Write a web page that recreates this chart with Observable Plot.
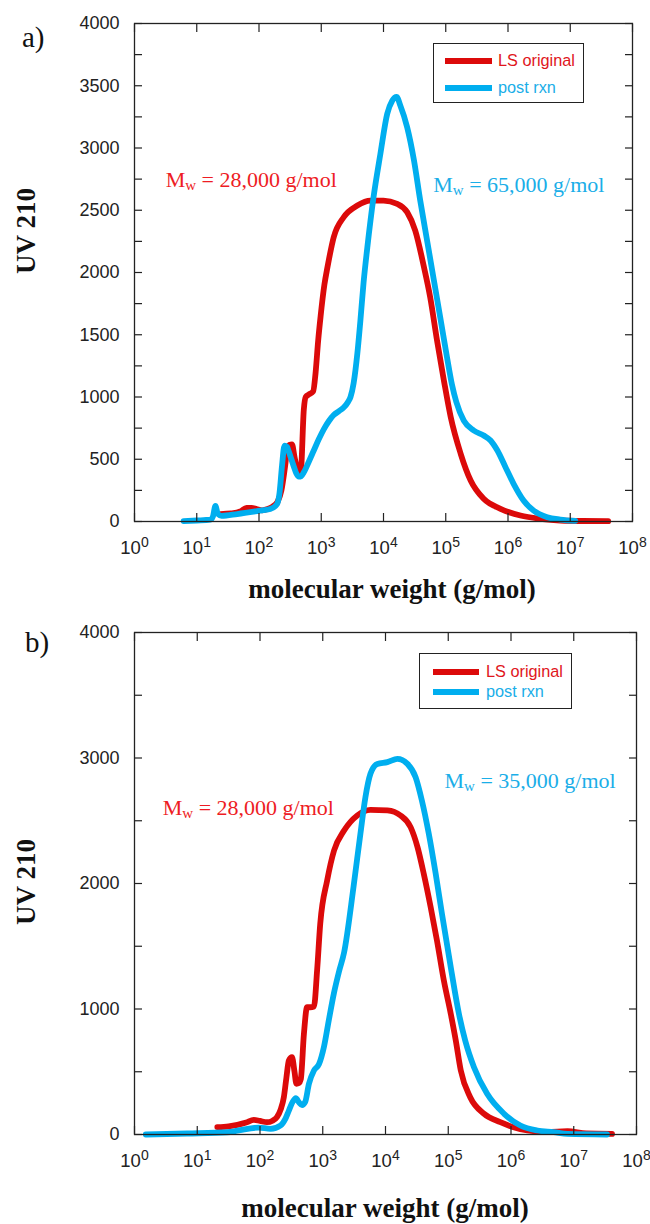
<!DOCTYPE html>
<html><head><meta charset="utf-8">
<script src="https://cdn.jsdelivr.net/npm/d3@7"></script>
<script src="https://cdn.jsdelivr.net/npm/@observablehq/plot@0.6"></script>
<style>
html,body{margin:0;padding:0;background:#fff}
body{width:650px;height:1224px;position:relative;overflow:hidden;font-family:"Liberation Sans",Arial,sans-serif}
.panel{position:absolute;left:0;width:650px;height:612px}
.legend{position:absolute;border:1.3px solid #222;background:#fff;box-sizing:border-box}
.legend .sw{position:absolute;height:6px}
.legend .lb{position:absolute;font-size:16.3px;line-height:16px;white-space:nowrap}
#overlay{position:absolute;left:0;top:0;pointer-events:none}
</style></head><body>
<div id="pa" class="panel" style="top:0"></div>
<div id="pb" class="panel" style="top:612px"></div>
<svg id="overlay" width="650" height="1224"></svg>
<script>
// ---------- data ----------
const series = ["LS original", "post rxn"];
const lineColors = ["#dc0a0a", "#00aeef"];
const textColors = ["#ee1c24", "#1aaee8"];

const xTickExponents = [0, 1, 2, 3, 4, 5, 6, 7, 8];
const yTicksA = d3.range(0, 4001, 250);
const yLabelsA = [0, 500, 1000, 1500, 2000, 2500, 3000, 3500, 4000];
const yTicksB = d3.range(0, 4001, 500);
const yLabelsB = [0, 1000, 2000, 3000, 4000];

// Panel a: LS original
const aRedLogMw = [1.38,1.55,1.70,1.80,1.88,1.96,2.05,2.14,2.22,2.30,2.36,2.41,2.45,2.49,2.53,2.57,2.62,2.67,2.72,2.75,2.80,2.87,2.91,2.95,2.99,3.05,3.10,3.20,3.36,3.58,3.79,4.00,4.22,4.38,4.51,4.65,4.75,4.86,4.97,5.08,5.24,5.40,5.61,5.88,6.20,6.52,6.84,7.20,7.61];
const aRedUv    = [60,65,80,110,110,100,90,100,120,160,250,410,560,615,620,520,420,400,900,1000,1020,1045,1200,1450,1650,1900,2043,2284,2444,2538,2578,2578,2552,2485,2337,2043,1802,1454,1133,838,544,329,182,102,48,22,8,4,3];
// Panel a: post rxn
const aBlueLogMw = [0.79,1.00,1.22,1.26,1.30,1.34,1.40,1.65,1.99,2.18,2.29,2.33,2.37,2.41,2.45,2.48,2.52,2.56,2.60,2.64,2.68,2.72,2.80,2.88,2.96,3.04,3.12,3.20,3.28,3.36,3.43,3.47,3.52,3.58,3.63,3.68,3.74,3.84,3.95,4.06,4.14,4.21,4.27,4.38,4.49,4.59,4.70,4.81,4.92,5.02,5.10,5.17,5.29,5.45,5.61,5.72,5.83,5.96,6.09,6.25,6.41,6.63,6.84,7.08];
const aBlueUv    = [3,8,15,40,125,60,45,60,85,100,140,230,450,610,600,560,500,440,385,360,365,395,480,570,660,740,805,855,885,915,960,1000,1110,1350,1620,1920,2200,2605,2953,3275,3380,3410,3341,3167,2900,2578,2257,1936,1614,1320,1100,960,811,731,691,651,570,436,303,169,88,35,16,5];

// Panel b: LS original
const bRedLogMw = [1.32,1.50,1.64,1.78,1.90,2.00,2.11,2.20,2.27,2.33,2.38,2.42,2.46,2.51,2.55,2.58,2.62,2.65,2.70,2.75,2.80,2.86,2.91,2.96,3.07,3.18,3.34,3.55,3.76,4.03,4.24,4.40,4.51,4.61,4.72,4.82,4.93,5.04,5.12,5.20,5.35,5.57,5.83,6.04,6.26,6.58,6.90,7.20,7.61];
const bRedUv    = [58,65,77,95,117,108,98,110,138,200,297,450,590,616,500,404,410,440,802,1014,1014,1020,1307,1679,2024,2263,2422,2542,2587,2582,2542,2449,2290,2077,1811,1546,1227,962,749,510,297,165,98,58,32,19,26,8,5];
// Panel b: post rxn
const bBlueLogMw = [0.18,0.84,1.48,1.64,1.98,2.17,2.33,2.40,2.46,2.52,2.57,2.62,2.67,2.72,2.78,2.86,2.94,3.02,3.10,3.18,3.26,3.34,3.49,3.60,3.68,3.76,3.87,4.03,4.19,4.35,4.48,4.58,4.69,4.80,4.90,5.04,5.17,5.27,5.41,5.62,5.89,6.15,6.42,6.68,6.90,7.53];
const bBlueUv    = [0,8,18,30,55,45,72,120,191,260,290,257,235,260,404,510,560,700,920,1130,1300,1450,1971,2396,2688,2874,2953,2967,2993,2953,2847,2661,2396,2077,1758,1333,962,749,536,324,165,72,32,19,5,0];

// annotations
const annTexts   = ["Mw = 28,000 g/mol", "Mw = 65,000 g/mol", "Mw = 28,000 g/mol", "Mw = 35,000 g/mol"];
const annPanel   = ["a", "a", "b", "b"];
const annSeries  = [0, 1, 0, 1];
const annLogMw   = [0.50, 4.80, 0.45, 4.94];
const annUv      = [2740, 2700, 2598, 2821];

// ---------- drawing ----------
function makeRows(curves) {
  const rows = [];
  curves.forEach(([logs, vals], i) => logs.forEach((l, j) => rows.push({series: series[i], mw: Math.pow(10, l), uv: vals[j]})));
  return rows;
}

function panel(id, cfg) {
  const rows = makeRows(cfg.curves);
  const ann = annTexts.map((t, i) => ({t, p: annPanel[i], s: annSeries[i], mw: Math.pow(10, annLogMw[i]), uv: annUv[i]})).filter(d => d.p === id);
  const xTicks = xTickExponents.map(e => Math.pow(10, e));
  const T = 8;
  const tickOpts = {stroke: "#222", strokeWidth: 1.2, fill: "none", tickSize: T, label: null};
  const chart = Plot.plot({
    width: 650, height: 612,
    marginLeft: cfg.ml, marginRight: cfg.mr, marginTop: cfg.mt, marginBottom: cfg.mb,
    style: {fontFamily: "'Liberation Sans', Arial, sans-serif", fontSize: "18px", color: "#222", background: "transparent", overflow: "visible"},
    x: {type: "log", domain: [1, 1e8]},
    y: {domain: [0, 4000]},
    color: {domain: series, range: lineColors},
    marks: [
      Plot.line(rows, {x: "mw", y: "uv", z: "series", stroke: "series", strokeWidth: 5.8, curve: "monotone-x", strokeLinejoin: "round", strokeLinecap: "round"}),
      Plot.frame({stroke: "#222", strokeWidth: 1.3}),
      Plot.axisY(cfg.yTicks, {...tickOpts, anchor: "left", dx: T}),
      Plot.axisY(cfg.yTicks, {...tickOpts, anchor: "right", dx: -T}),
      Plot.axisX(xTicks, {...tickOpts, anchor: "bottom", dy: -T}),
      Plot.axisX(xTicks, {...tickOpts, anchor: "top", dy: T}),
      Plot.axisY(cfg.yLabels, {anchor: "left", tickSize: 0, tickPadding: 15, fontSize: 18, fill: "#222", label: null, tickFormat: d => String(d)}),
      Plot.axisX(xTicks, {anchor: "bottom", tickSize: 0, tickPadding: 19, fontSize: 18.5, fill: "#222", label: null, tickFormat: d => "10^" + Math.round(Math.log10(d))}),
      Plot.text(ann, {x: "mw", y: "uv", text: "t", fill: d => textColors[d.s], textAnchor: "start", fontFamily: "'Liberation Serif', 'Times New Roman', serif", fontSize: 22})
    ]
  });
  const svg = d3.select(chart);
  svg.selectAll("text").each(function() {
    const t = this.textContent;
    let m = /^10\^(\d)$/.exec(t);
    if (m) {
      const s = d3.select(this);
      s.text(null);
      s.append("tspan").text("10");
      s.append("tspan").attr("font-size", "14px").attr("baseline-shift", "7px").text(m[1]);
    } else if (/^Mw /.test(t)) {
      const s = d3.select(this);
      s.text(null);
      s.append("tspan").text("M");
      s.append("tspan").attr("font-size", "15px").attr("baseline-shift", "-3px").text("w");
      s.append("tspan").text(t.slice(2));
    }
  });
  document.getElementById("p" + id).appendChild(chart);
}

panel("a", {ml: 134, mr: 18, mt: 23, mb: 91, yTicks: yTicksA, yLabels: yLabelsA,
  curves: [[aRedLogMw, aRedUv], [aBlueLogMw, aBlueUv]]});
panel("b", {ml: 134, mr: 14, mt: 20, mb: 90, yTicks: yTicksB, yLabels: yLabelsB,
  curves: [[bRedLogMw, bRedUv], [bBlueLogMw, bBlueUv]]});

// legends
function legend(box) {
  const div = document.createElement("div");
  div.className = "legend";
  Object.assign(div.style, {left: box.x + "px", top: box.y + "px", width: box.w + "px", height: box.h + "px"});
  series.forEach((s, i) => {
    const sw = document.createElement("div");
    sw.className = "sw";
    Object.assign(sw.style, {left: box.lx + "px", top: (box.ly[i] - 3) + "px", width: box.lw + "px", background: lineColors[i]});
    const lb = document.createElement("div");
    lb.className = "lb";
    lb.textContent = s;
    Object.assign(lb.style, {left: box.tx + "px", top: (box.ly[i] - 9) + "px", color: i === 0 ? "#e0161c" : "#1aaee8"});
    div.appendChild(sw); div.appendChild(lb);
  });
  document.body.appendChild(div);
}
legend({x: 433, y: 43, w: 151, h: 60, lx: 11, lw: 47, ly: [17, 44], tx: 64});
legend({x: 419, y: 653, w: 153, h: 56, lx: 13, lw: 46, ly: [18, 38], tx: 66});

// titles & panel labels
const ov = d3.select("#overlay");
const serif = "'Liberation Serif', 'Times New Roman', serif";
[["a)", 22, 47], ["b)", 25, 652]].forEach(([t, x, y]) =>
  ov.append("text").attr("x", x).attr("y", y).attr("font-family", serif).attr("font-size", 29).attr("fill", "#111").text(t));
[[392, 598], [385, 1217]].forEach(([x, y]) =>
  ov.append("text").attr("x", x).attr("y", y).attr("text-anchor", "middle").attr("font-family", serif).attr("font-weight", "bold").attr("font-size", 27).attr("fill", "#111").text("molecular weight (g/mol)"));
[[35, 231], [35, 882]].forEach(([x, y]) =>
  ov.append("text").attr("transform", `translate(${x},${y}) rotate(-90)`).attr("text-anchor", "middle").attr("font-family", serif).attr("font-weight", "bold").attr("font-size", 27).attr("fill", "#111").text("UV 210"));
</script>
</body></html>
